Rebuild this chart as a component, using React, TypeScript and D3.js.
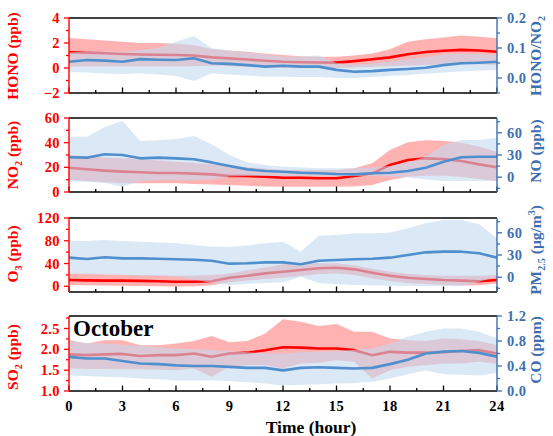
import React from 'react';
import * as d3 from 'd3';

// ---------------- DATA ----------------
const hours = [0, 1, 2, 3, 4, 5, 6, 7, 8, 9, 10, 11, 12, 13, 14, 15, 16, 17, 18, 19, 20, 21, 22, 23, 24];

// Panel 1: HONO (ppb) & HONO/NO2
const honoMean = [1.26, 1.22, 1.18, 1.12, 1.08, 1.06, 1.04, 1.0, 0.85, 0.77, 0.68, 0.58, 0.5, 0.46, 0.44, 0.43, 0.55, 0.7, 0.85, 1.1, 1.28, 1.38, 1.45, 1.4, 1.3];
const honoHigh = [2.4, 2.3, 2.2, 2.1, 2.0, 2.0, 1.95, 1.85, 1.5, 1.4, 1.3, 1.15, 1.05, 0.95, 0.9, 0.9, 1.0, 1.17, 1.5, 2.1, 2.3, 2.45, 2.6, 2.5, 2.38];
const honoLow = [0.1, 0.15, 0.15, 0.15, 0.15, 0.15, 0.15, 0.15, 0.2, 0.15, 0.1, 0.05, 0.0, 0.0, 0.0, 0.0, 0.05, 0.1, 0.15, 0.2, 0.25, 0.3, 0.3, 0.3, 0.25];
const ratioMean = [0.054, 0.06, 0.058, 0.054, 0.063, 0.061, 0.06, 0.066, 0.049, 0.047, 0.043, 0.038, 0.041, 0.038, 0.038, 0.027, 0.021, 0.023, 0.027, 0.03, 0.034, 0.043, 0.049, 0.051, 0.054];
const ratioHigh = [0.085, 0.088, 0.088, 0.087, 0.093, 0.1, 0.121, 0.14, 0.099, 0.092, 0.085, 0.078, 0.071, 0.072, 0.075, 0.05, 0.045, 0.048, 0.055, 0.062, 0.07, 0.078, 0.082, 0.08, 0.077];
const ratioLow = [0.02, 0.018, 0.015, 0.013, 0.016, 0.012, 0.007, -0.01, 0.016, 0.012, 0.008, 0.005, 0.004, 0.003, 0.003, 0.0, 0.0, 0.003, 0.007, 0.01, 0.014, 0.018, 0.022, 0.025, 0.027];

// Panel 2: NO2 (ppb) & NO (ppb)
const no2Mean = [19.7, 18.4, 17.3, 16.5, 16, 15.4, 15.4, 14.9, 14.3, 13, 13, 12.4, 11.6, 11.6, 11.1, 11.1, 13, 15.1, 21.9, 25.9, 27.3, 26.8, 25.1, 22.4, 20];
const no2High = [30, 29, 28, 27.3, 26.5, 25.5, 24.6, 23.5, 22.5, 21.9, 20, 19, 17.8, 17.8, 17.8, 17.8, 19.2, 23.3, 34, 40.3, 42, 41.5, 40, 36.8, 32.7];
const no2Low = [10, 9, 8, 7, 7, 7, 7, 6.5, 6, 5.7, 5, 4.5, 4.3, 4.3, 4.3, 4.3, 4.5, 5.7, 9.7, 12.4, 13.2, 13.2, 12.4, 10.5, 8.9];
const noMean = [27, 26.4, 31, 30, 25.5, 26.4, 25.5, 24.2, 20, 15.1, 10.6, 8.4, 7.4, 6, 5.3, 4.3, 4, 5.3, 6, 8.4, 12.8, 21, 27, 27.7, 27.7];
const noHigh = [54.7, 54.7, 68, 76, 49, 50, 51.6, 55.7, 44.4, 30, 20, 16.5, 14, 13, 12, 12, 12, 13, 15, 20, 28, 43.5, 50.3, 50.3, 53.4];
const noLow = [-6, -6, -8, -13, -5, -4, -4, -4, -3, 1, 1.5, 1.5, 1.5, 1.5, 1.5, 1.5, 1.5, 1.5, 1, 0, -3, -5, -5, -5, -5];

// Panel 3: O3 (ppb) & PM2.5 (ug/m3)
const o3Mean = [11, 10.5, 10, 10, 9.5, 9, 8, 8, 9, 15, 18.6, 22.7, 25.6, 28.6, 31.6, 32.7, 29.8, 23.9, 18.6, 15, 12.8, 11, 10, 9, 11];
const o3High = [22.7, 22, 21, 20.5, 20, 19.5, 18.6, 19, 20, 22.7, 28, 33, 38.6, 40, 40.5, 40.4, 37, 31, 25.6, 22, 20, 18.6, 18.5, 18.5, 19.8];
const o3Low = [2.3, 2, 1.5, 1, 0.5, 0, -0.5, 0, 2, 7, 10, 13, 15, 18, 21, 22.7, 20, 14, 9.3, 6, 4, 2.3, 1.5, 2, 5];
const pmMean = [26.4, 24.6, 27, 25.5, 25.5, 25, 24.2, 23.5, 22.3, 18.3, 18.8, 20, 20, 17.4, 22.3, 23.2, 24.2, 25, 26.4, 30, 33.6, 34.5, 34.5, 32.3, 26.4];
const pmHigh = [49.3, 49, 50.3, 49, 48, 47, 45.8, 43.5, 41.2, 41, 43, 45.8, 48, 34.5, 56, 57, 59.3, 59.3, 60, 66, 72.8, 77.3, 77.3, 71.5, 52.5];
const pmLow = [5.3, 4, 3.5, 3, 2, 1.5, 0.7, -3, -8, -10.5, -9, -8, -6.9, 0.7, -8, -9.6, -10.5, -11, -11.5, -12, -12, -12, -12, -6, 1];

// Panel 4: SO2 (ppb) & CO (ppm)
const so2Mean = [1.88, 1.86, 1.88, 1.89, 1.84, 1.86, 1.86, 1.9, 1.82, 1.9, 1.92, 1.98, 2.05, 2.04, 2.02, 2.02, 1.98, 1.86, 1.94, 1.92, 1.92, 1.93, 1.96, 1.98, 1.9];
const so2High = [2.22, 2.14, 2.22, 2.22, 2.1, 2.1, 2.14, 2.2, 2.32, 2.17, 2.2, 2.38, 2.72, 2.66, 2.56, 2.61, 2.42, 2.42, 2.26, 2.22, 2.2, 2.26, 2.24, 2.2, 2.1];
const so2Low = [1.54, 1.53, 1.53, 1.52, 1.52, 1.51, 1.5, 1.54, 1.34, 1.58, 1.62, 1.62, 1.54, 1.66, 1.68, 1.74, 1.7, 1.3, 1.5, 1.58, 1.62, 1.66, 1.66, 1.7, 1.66];
const coMean = [0.546, 0.52, 0.52, 0.48, 0.44, 0.43, 0.41, 0.4, 0.4, 0.386, 0.37, 0.37, 0.33, 0.37, 0.38, 0.37, 0.36, 0.37, 0.43, 0.5, 0.6, 0.63, 0.64, 0.61, 0.55];
const coHigh = [0.79, 0.77, 0.76, 0.74, 0.72, 0.7, 0.68, 0.67, 0.66, 0.64, 0.62, 0.6, 0.6, 0.62, 0.63, 0.64, 0.66, 0.68, 0.76, 0.87, 0.95, 1.0, 1.0, 0.95, 0.84];
const coLow = [0.25, 0.24, 0.23, 0.22, 0.2, 0.19, 0.17, 0.17, 0.17, 0.16, 0.14, 0.12, 0.09, 0.1, 0.11, 0.12, 0.13, 0.15, 0.2, 0.27, 0.33, 0.27, 0.26, 0.25, 0.29];

// Axis ticks
const xMajorTicks = [0, 3, 6, 9, 12, 15, 18, 21, 24];
const xMinorTicks = [1.5, 4.5, 7.5, 10.5, 13.5, 16.5, 19.5, 22.5];

const honoTicks = [-2, 0, 2, 4];
const honoMinor = [-1, 1, 3];
const ratioTicks = [0, 0.1, 0.2];
const ratioMinor = [-0.05, 0.05, 0.15];
const no2Ticks = [0, 20, 40, 60];
const no2Minor = [10, 30, 50];
const noTicks = [0, 30, 60];
const noMinor = [-15, 15, 45, 75];
const o3Ticks = [0, 40, 80, 120];
const o3Minor = [20, 60, 100];
const pmTicks = [0, 30, 60];
const pmMinor = [-15, 15, 45, 75];
const so2Ticks = [1.0, 1.5, 2.0, 2.5];
const so2Minor = [1.25, 1.75, 2.25, 2.75];
const coTicks = [0, 0.4, 0.8, 1.2];
const coMinor = [0.2, 0.6, 1.0];

// ---------------- STYLE ----------------
const FONT = '"Liberation Serif", "Times New Roman", serif';
const RED = '#ff0000';
const BLUE_AXIS = '#3d6fb0';
const BLUE_LINE = '#4f8fce';
const BLUE_BAND = '#c3d9f0';
const X0 = 69;
const X1 = 497;

type Part = { t: string; sub?: boolean; sup?: boolean };

function RotLabel({ x, y, parts, color, size }: { x: number; y: number; parts: Part[]; color: string; size: number }) {
  let shift = 0;
  return (
    <text
      transform={`translate(${x},${y}) rotate(-90)`}
      textAnchor="middle"
      dy="0.35em"
      fill={color}
      fontSize={size}
      fontWeight="bold"
      fontFamily={FONT}
    >
      {parts.map((p, i) => {
        const target = p.sub ? size * 0.28 : p.sup ? -size * 0.38 : 0;
        const dy = target - shift;
        shift = target;
        return (
          <tspan key={i} dy={dy} fontSize={p.sub || p.sup ? size * 0.65 : size}>
            {p.t}
          </tspan>
        );
      })}
    </text>
  );
}

type PanelCfg = {
  top: number;
  bottom: number;
  lDom: [number, number];
  rDom: [number, number];
  lTicks: number[];
  lMinor: number[];
  rTicks: number[];
  rMinor: number[];
  lFmt: (v: number) => string;
  rFmt: (v: number) => string;
  red: { mean: number[]; high: number[]; low: number[] };
  blue: { mean: number[]; high: number[]; low: number[] };
  lLabel: Part[];
  rLabel: Part[];
  lLabelY: number;
  rLabelY: number;
  showX: boolean;
};

const fmt0 = (v: number) => d3.format('d')(v);
const fmt1 = (v: number) => d3.format('.1f')(v);

export default function App() {
  const x = d3.scaleLinear().domain([0, 24]).range([X0, X1]);

  const panels: PanelCfg[] = [
    {
      top: 18, bottom: 93, lDom: [-2, 4], rDom: [-0.05, 0.2],
      lTicks: honoTicks, lMinor: honoMinor, rTicks: ratioTicks, rMinor: ratioMinor,
      lFmt: fmt0, rFmt: fmt1,
      red: { mean: honoMean, high: honoHigh, low: honoLow },
      blue: { mean: ratioMean, high: ratioHigh, low: ratioLow },
      lLabel: [{ t: 'HONO (ppb)' }],
      rLabel: [{ t: 'HONO/NO' }, { t: '2', sub: true }],
      lLabelY: 56, rLabelY: 56, showX: false,
    },
    {
      top: 118, bottom: 192, lDom: [0, 60], rDom: [-20, 80],
      lTicks: no2Ticks, lMinor: no2Minor, rTicks: noTicks, rMinor: noMinor,
      lFmt: fmt0, rFmt: fmt0,
      red: { mean: no2Mean, high: no2High, low: no2Low },
      blue: { mean: noMean, high: noHigh, low: noLow },
      lLabel: [{ t: 'NO' }, { t: '2', sub: true }, { t: ' (ppb)' }],
      rLabel: [{ t: 'NO (ppb)' }],
      lLabelY: 155, rLabelY: 151, showX: false,
    },
    {
      top: 218, bottom: 292, lDom: [-10, 120], rDom: [-20, 80],
      lTicks: o3Ticks, lMinor: o3Minor, rTicks: pmTicks, rMinor: pmMinor,
      lFmt: fmt0, rFmt: fmt0,
      red: { mean: o3Mean, high: o3High, low: o3Low },
      blue: { mean: pmMean, high: pmHigh, low: pmLow },
      lLabel: [{ t: 'O' }, { t: '3', sub: true }, { t: ' (ppb)' }],
      rLabel: [{ t: 'PM' }, { t: '2.5', sub: true }, { t: ' (μg/m' }, { t: '3', sup: true }, { t: ')' }],
      lLabelY: 254, rLabelY: 250, showX: false,
    },
    {
      top: 316, bottom: 391, lDom: [1.0, 2.8], rDom: [0, 1.2],
      lTicks: so2Ticks, lMinor: so2Minor, rTicks: coTicks, rMinor: coMinor,
      lFmt: fmt1, rFmt: fmt1,
      red: { mean: so2Mean, high: so2High, low: so2Low },
      blue: { mean: coMean, high: coHigh, low: coLow },
      lLabel: [{ t: 'SO' }, { t: '2', sub: true }, { t: ' (ppb)' }],
      rLabel: [{ t: 'CO (ppm)' }],
      lLabelY: 357, rLabelY: 350, showX: true,
    },
  ];

  const tickFont = 14.5;

  return (
    <svg
      width={553}
      height={436}
      style={{ position: 'absolute', left: 0, top: 0, background: '#fff' }}
      xmlns="http://www.w3.org/2000/svg"
    >
      <rect x={0} y={0} width={553} height={436} fill="#fff" />
      <defs>
        {panels.map((p, i) => (
          <clipPath id={`clip${i}`} key={i}>
            <rect x={X0} y={p.top} width={X1 - X0} height={p.bottom - p.top} />
          </clipPath>
        ))}
      </defs>
      {panels.map((p, i) => {
        const yL = d3.scaleLinear().domain(p.lDom).range([p.bottom, p.top]);
        const yR = d3.scaleLinear().domain(p.rDom).range([p.bottom, p.top]);
        const idx = hours.map((_, k) => k);
        const redArea = d3.area<number>()
          .x((k) => x(hours[k]))
          .y0((k) => yL(p.red.low[k]))
          .y1((k) => yL(p.red.high[k]))(idx) || '';
        const redLine = d3.line<number>()
          .x((k) => x(hours[k]))
          .y((k) => yL(p.red.mean[k]))(idx) || '';
        const blueArea = d3.area<number>()
          .x((k) => x(hours[k]))
          .y0((k) => yR(p.blue.low[k]))
          .y1((k) => yR(p.blue.high[k]))(idx) || '';
        const blueLine = d3.line<number>()
          .x((k) => x(hours[k]))
          .y((k) => yR(p.blue.mean[k]))(idx) || '';
        return (
          <g key={i}>
            <g clipPath={`url(#clip${i})`}>
              <path d={redArea} fill={RED} fillOpacity={0.3} stroke="none" />
              <path d={redLine} fill="none" stroke={RED} strokeWidth={2.6} strokeLinejoin="round" />
              <path d={blueArea} fill={BLUE_BAND} fillOpacity={0.6} stroke="none" />
              <path d={blueLine} fill="none" stroke={BLUE_LINE} strokeWidth={2.6} strokeLinejoin="round" />
            </g>
            {/* top border */}
            <line x1={X0} x2={X1} y1={p.top} y2={p.top} stroke="#000" strokeWidth={1.4} />
            {/* bottom axis */}
            <line x1={X0} x2={X1} y1={p.bottom} y2={p.bottom} stroke="#000" strokeWidth={1.4} />
            {xMajorTicks.map((h) => (
              <line key={`xM${h}`} x1={x(h)} x2={x(h)} y1={p.bottom} y2={p.bottom - 5.5} stroke="#000" strokeWidth={1.3} />
            ))}
            {xMinorTicks.map((h) => (
              <line key={`xm${h}`} x1={x(h)} x2={x(h)} y1={p.bottom} y2={p.bottom - 3} stroke="#000" strokeWidth={1.3} />
            ))}
            {/* left axis */}
            <line x1={X0} x2={X0} y1={p.top} y2={p.bottom} stroke={RED} strokeWidth={1.4} />
            {p.lTicks.map((v) => (
              <g key={`lt${v}`}>
                <line x1={X0} x2={X0 - 5} y1={yL(v)} y2={yL(v)} stroke={RED} strokeWidth={1.3} />
                <text
                  x={X0 - 9}
                  y={yL(v)}
                  dy="0.35em"
                  textAnchor="end"
                  fill={RED}
                  fontFamily={FONT}
                  fontWeight="bold"
                  fontSize={tickFont}
                  letterSpacing={0.4}
                >
                  {p.lFmt(v)}
                </text>
              </g>
            ))}
            {p.lMinor.map((v) => (
              <line key={`lm${v}`} x1={X0} x2={X0 - 3} y1={yL(v)} y2={yL(v)} stroke={RED} strokeWidth={1.3} />
            ))}
            {/* right axis */}
            <line x1={X1} x2={X1} y1={p.top} y2={p.bottom} stroke={BLUE_AXIS} strokeWidth={1.4} />
            {p.rTicks.map((v) => (
              <g key={`rt${v}`}>
                <line x1={X1} x2={X1 + 5} y1={yR(v)} y2={yR(v)} stroke={BLUE_AXIS} strokeWidth={1.3} />
                <text
                  x={X1 + 10}
                  y={yR(v)}
                  dy="0.35em"
                  textAnchor="start"
                  fill={BLUE_AXIS}
                  fontFamily={FONT}
                  fontWeight="bold"
                  fontSize={tickFont}
                  letterSpacing={0.4}
                >
                  {p.rFmt(v)}
                </text>
              </g>
            ))}
            {p.rMinor.map((v) => (
              <line key={`rm${v}`} x1={X1} x2={X1 + 3} y1={yR(v)} y2={yR(v)} stroke={BLUE_AXIS} strokeWidth={1.3} />
            ))}
            {/* titles */}
            <RotLabel x={18} y={p.lLabelY} parts={p.lLabel} color={RED} size={15.5} />
            <RotLabel x={541} y={p.rLabelY} parts={p.rLabel} color={BLUE_AXIS} size={15.5} />
            {p.showX &&
              xMajorTicks.map((h) => (
                <text
                  key={`xl${h}`}
                  x={x(h)}
                  y={411}
                  textAnchor="middle"
                  fill="#000"
                  fontFamily={FONT}
                  fontWeight="bold"
                  fontSize={tickFont}
                  letterSpacing={0.4}
                >
                  {h}
                </text>
              ))}
          </g>
        );
      })}
      <text x={73} y={336} fill="#000" fontFamily={FONT} fontWeight="bold" fontSize={23}>
        October
      </text>
      <text x={311} y={433} textAnchor="middle" fill="#000" fontFamily={FONT} fontWeight="bold" fontSize={17.5}>
        Time (hour)
      </text>
    </svg>
  );
}
